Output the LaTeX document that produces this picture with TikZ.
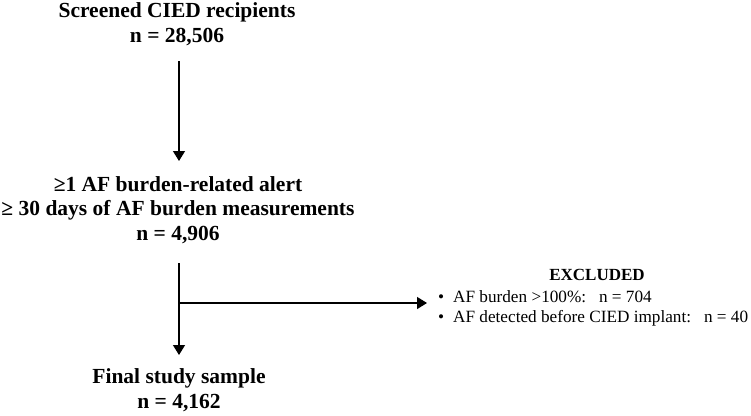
\documentclass[tikz,border=0pt]{standalone}
\usepackage{fontspec}
\setmainfont{Liberation Serif}
\usetikzlibrary{arrows.meta}
\begin{document}
\begin{tikzpicture}[x=1pt,y=-1pt,
  hd/.style={font=\bfseries\fontsize{21.5}{24.5}\selectfont, align=center, inner sep=0pt},
  ex/.style={font=\fontsize{17.2}{20}\selectfont, align=left, inner sep=0pt},
  arr/.style={line width=1.3pt, -{Triangle[width=12pt,length=10pt]}},
  ln/.style={line width=1.3pt}]
\useasboundingbox (0,0) rectangle (751,415);
\node[hd, anchor=base] (t1) at (177,42) {Screened CIED recipients\\n = 28,506};
\node[hd, anchor=base] (t2) at (178,240) {≥1 AF burden-related alert\\≥ 30 days of AF burden measurements\\n = 4,906};
\node[hd, anchor=base] (t3) at (179,408) {Final study sample\\n = 4,162};
\node[font=\bfseries\fontsize{17}{20}\selectfont, inner sep=0pt, anchor=base] (exh) at (597,280) {EXCLUDED};
\node[ex, anchor=base west] (exl) at (438,322) {\makebox[15pt][l]{\textbullet}AF burden >100\%:\ \ \ n = 704\\\makebox[15pt][l]{\textbullet}AF detected before CIED implant:\ \ \ n = 40};
\coordinate (s1) at (179,61);
\coordinate (e1) at (179,161);
\coordinate (s2) at (179,263);
\coordinate (br) at (179,303);
\coordinate (e2) at (179,355);
\coordinate (tip) at (427,303);
\draw[arr] (s1) -- (e1);
\draw[ln] (s2) -- (br);
\draw[arr] (br) -- (e2);
\draw[arr] (br) -- (tip);
\end{tikzpicture}
\end{document}
